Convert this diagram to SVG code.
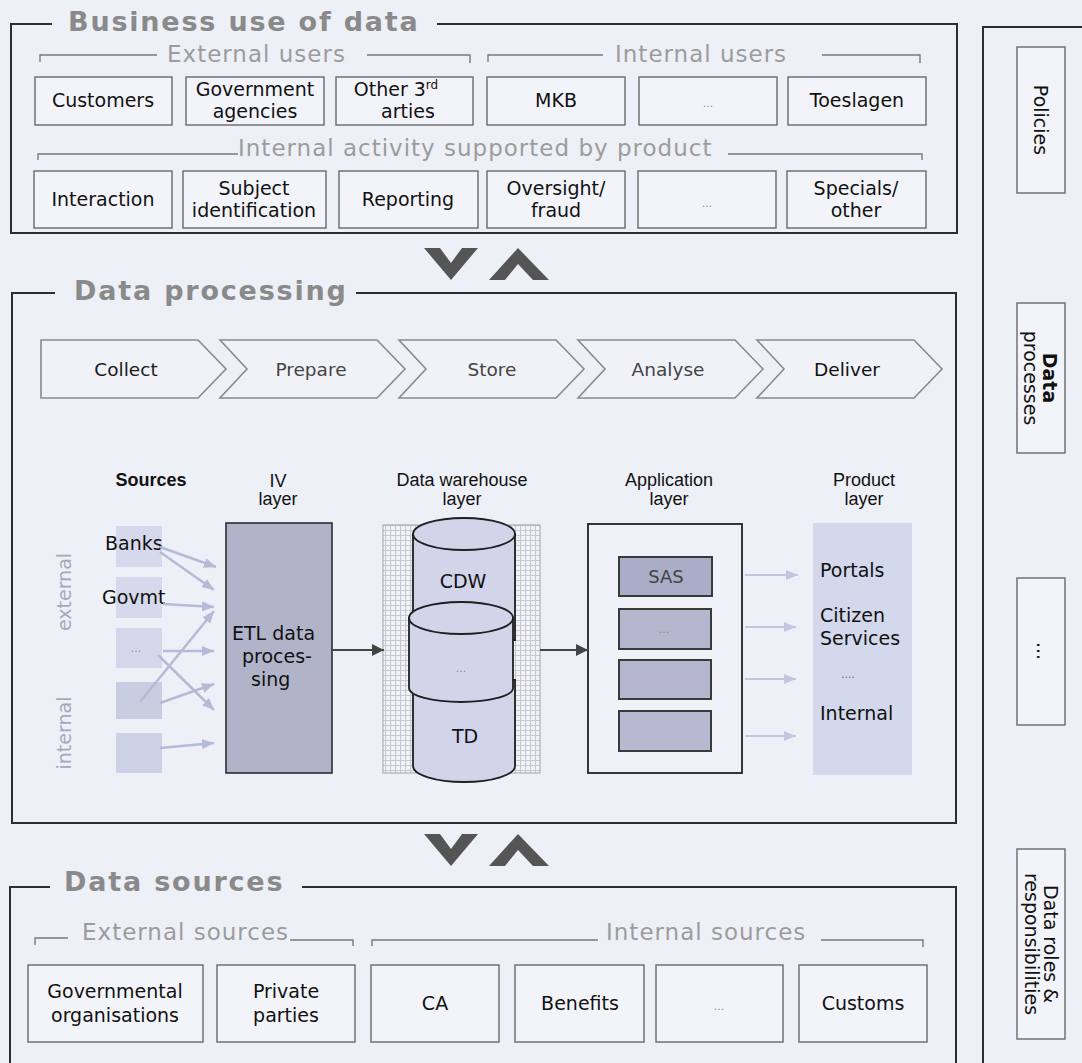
<svg xmlns="http://www.w3.org/2000/svg" width="1082" height="1063" viewBox="0 0 1082 1063">
<style>
.title{font-family:"DejaVu Sans",Verdana,sans-serif;font-weight:bold;font-size:27px;fill:#8a8a8a;letter-spacing:1.8px}
.sub{font-family:"DejaVu Sans",Verdana,sans-serif;font-size:23px;fill:#9c9c9c;letter-spacing:1px}
.panel{fill:none;stroke:#2e2e2e;stroke-width:2}
.brk{fill:none;stroke:#7a7a7a;stroke-width:1.4}
.box{fill:#f3f4fa;stroke:#727272;stroke-width:1.5}
.bt{font-family:"DejaVu Sans",Verdana,sans-serif;font-size:19px;fill:#111;text-anchor:middle}
.dots{font-family:"DejaVu Sans",sans-serif;font-size:11px;fill:#8a8a8a;text-anchor:middle}
.chev{fill:#f1f2f8;stroke:#8a8a8a;stroke-width:1.6}
.ct{font-family:"DejaVu Sans",Verdana,sans-serif;font-size:18.5px;text-anchor:middle}
.lab{font-family:"Liberation Sans",Arial,sans-serif;font-size:18px;fill:#111;text-anchor:middle}
.it{font-family:"DejaVu Sans",Verdana,sans-serif;font-size:19px;fill:#111}
.vert{font-family:"DejaVu Sans",Verdana,sans-serif;font-size:19px;fill:#a6a9bc;text-anchor:middle}
.side{font-family:"DejaVu Sans",Verdana,sans-serif;font-size:19px;fill:#111;text-anchor:middle}
.cyl{fill:#d2d5ea;stroke:#1f1f1f;stroke-width:1.8}
.appb{stroke:#3a3a3a;stroke-width:2}
.vv{fill:#555}
.la{stroke:#b5bad6;stroke-width:2.5;fill:none}
.pa{stroke:#c2c6de;stroke-width:2;fill:none}
.da{stroke:#444;stroke-width:2;fill:none}
</style>
<defs>
<marker id="al" viewBox="0 0 12 10" refX="12" refY="5" markerWidth="12" markerHeight="10" markerUnits="userSpaceOnUse" orient="auto"><path d="M0,0 L12,5 L0,10 z" fill="#b5bad6"/></marker>
<marker id="ap" viewBox="0 0 12 10" refX="12" refY="5" markerWidth="12" markerHeight="10" markerUnits="userSpaceOnUse" orient="auto"><path d="M0,0 L12,5 L0,10 z" fill="#c2c6de"/></marker>
<marker id="ad" viewBox="0 0 12 12" refX="12" refY="6" markerWidth="12" markerHeight="12" markerUnits="userSpaceOnUse" orient="auto"><path d="M0,0 L12,6 L0,12 z" fill="#444"/></marker>
<pattern id="grid" width="5" height="5" patternUnits="userSpaceOnUse"><rect width="5" height="5" fill="#f4f4f8"/><path d="M0,0.5 H5 M0.5,0 V5" stroke="#c6c8d3" stroke-width="1.2"/></pattern>
</defs>
<rect width="1082" height="1063" fill="#eef0f7"/>

<!-- Panel 1 -->
<g id="panel-business">
<path class="panel" d="M52,24 H11 V233 H957 V24 H437"/>
<text class="title" x="68" y="31">Business use of data</text>
<path class="brk" d="M40,62 V55 H157 M367,55 H470 V63"/>
<text class="sub" x="167" y="62">External users</text>
<path class="brk" d="M488,62 V55 H603 M822,55 H920 V63"/>
<text class="sub" x="615" y="62">Internal users</text>
<path class="brk" d="M38,160 V154 H238 M728,154 H922 V160"/>
<text class="sub" x="238" y="156">Internal activity supported by product</text>
</g>
<g id="n-customers"><rect class="box" x="35" y="77" width="137" height="48"/><text class="bt" x="103" y="107">Customers</text></g>
<g id="n-government"><rect class="box" x="186" y="77" width="138" height="48"/><text class="bt" x="255" y="96">Government</text><text class="bt" x="255" y="118">agencies</text></g>
<g id="n-other"><rect class="box" x="336" y="77" width="137" height="48"/><text class="bt" x="396" y="96">Other 3<tspan font-size="12" dy="-7">rd</tspan></text><text class="bt" x="408" y="118">arties</text></g>
<g id="n-mkb"><rect class="box" x="487" y="77" width="138" height="48"/><text class="bt" x="556" y="107">MKB</text></g>
<g id="n-users-more"><rect class="box" x="639" y="77" width="138" height="48"/><text class="dots" x="708" y="107">...</text></g>
<g id="n-toeslagen"><rect class="box" x="788" y="77" width="138" height="48"/><text class="bt" x="857" y="107">Toeslagen</text></g>
<g id="n-interaction"><rect class="box" x="34" y="171" width="138" height="57"/><text class="bt" x="103" y="206">Interaction</text></g>
<g id="n-subject"><rect class="box" x="183" y="171" width="143" height="57"/><text class="bt" x="254" y="195">Subject</text><text class="bt" x="254" y="217">identification</text></g>
<g id="n-reporting"><rect class="box" x="339" y="171" width="139" height="57"/><text class="bt" x="408" y="206">Reporting</text></g>
<g id="n-oversight"><rect class="box" x="487" y="171" width="138" height="57"/><text class="bt" x="556" y="195">Oversight/</text><text class="bt" x="556" y="217">fraud</text></g>
<g id="n-activity-more"><rect class="box" x="638" y="171" width="138" height="57"/><text class="dots" x="707" y="207">...</text></g>
<g id="n-specials"><rect class="box" x="787" y="171" width="139" height="57"/><text class="bt" x="856" y="195">Specials/</text><text class="bt" x="856" y="217">other</text></g>

<!-- flow chevrons between panels -->
<g id="flow-top">
<polygon class="vv" points="424,248 440,248 451,263 462,248 478,248 451,280"/>
<polygon class="vv" points="489,280 518,248 549,280 533,280 518,264 505,280"/>
</g>
<g id="flow-bottom">
<polygon class="vv" points="424,834 440,834 451,849 462,834 478,834 451,866"/>
<polygon class="vv" points="489,866 518,834 549,866 533,866 518,850 505,866"/>
</g>

<!-- Panel 2 -->
<g id="panel-processing">
<path class="panel" d="M55,293 H12 V823 H956 V293 H356"/>
<text class="title" x="74" y="300">Data processing</text>
</g>
<g id="n-collect"><polygon class="chev" points="41,340 198,340 226,369 198,398 41,398"/><text class="ct" x="126" y="376" style="fill:#1a1a1a">Collect</text></g>
<g id="n-prepare"><polygon class="chev" points="220,340 377,340 405,369 377,398 220,398 247,369"/><text class="ct" x="311" y="376" style="fill:#444">Prepare</text></g>
<g id="n-store"><polygon class="chev" points="399,340 556,340 584,369 556,398 399,398 426,369"/><text class="ct" x="492" y="376" style="fill:#444">Store</text></g>
<g id="n-analyse"><polygon class="chev" points="578,340 735,340 763,369 735,398 578,398 605,369"/><text class="ct" x="668" y="376" style="fill:#444">Analyse</text></g>
<g id="n-deliver"><polygon class="chev" points="757,340 914,340 942,369 914,398 757,398 784,369"/><text class="ct" x="847" y="376" style="fill:#111">Deliver</text></g>

<g id="layer-labels">
<text class="lab" x="151" y="486" style="font-weight:bold">Sources</text>
<text class="lab" x="278" y="487">IV</text><text class="lab" x="278" y="505">layer</text>
<text class="lab" x="462" y="486">Data warehouse</text><text class="lab" x="462" y="505">layer</text>
<text class="lab" x="669" y="486">Application</text><text class="lab" x="669" y="505">layer</text>
<text class="lab" x="864" y="486">Product</text><text class="lab" x="864" y="505">layer</text>
</g>

<g id="n-sources">
<rect x="116" y="526" width="46" height="41" fill="#d6d9eb"/>
<rect x="116" y="577" width="46" height="41" fill="#d6d9eb"/>
<rect x="116" y="628" width="46" height="40" fill="#d4d7ea"/>
<rect x="116" y="682" width="46" height="37" fill="#c9cde2"/>
<rect x="116" y="733" width="46" height="40" fill="#cdd1e5"/>
<text class="it" x="105" y="550">Banks</text>
<text class="it" x="102" y="604">Govmt</text>
<text class="dots" x="136" y="652">...</text>
<text class="vert" transform="translate(64,592) rotate(-90)" y="7">external</text>
<text class="vert" transform="translate(64,733) rotate(-90)" y="7">internal</text>
</g>

<g id="n-iv">
<rect x="226" y="523" width="106" height="250" fill="#b1b4c9" stroke="#2e2e2e" stroke-width="1.6"/>
<text class="it" x="232" y="640">ETL data</text>
<text class="it" x="242" y="663">proces-</text>
<text class="it" x="251" y="686">sing</text>
</g>

<g id="n-dw">
<rect x="383" y="525" width="157" height="248" fill="url(#grid)" stroke="#a0a2ae" stroke-width="1"/>
<path class="cyl" d="M413,680 V766 A51,16 0 0 0 515,766 V680 Z"/>
<path class="cyl" d="M413,534 V640 H515 V534 Z"/>
<ellipse class="cyl" cx="464" cy="534" rx="51" ry="16"/>
<path class="cyl" d="M409,618 V688 A52,14 0 0 0 513,688 V618 Z"/>
<ellipse class="cyl" cx="461" cy="618" rx="52" ry="16"/>
<text class="it" x="463" y="588" style="text-anchor:middle">CDW</text>
<text class="dots" x="461" y="672">...</text>
<text class="it" x="465" y="743" style="text-anchor:middle">TD</text>
</g>

<g id="n-app">
<rect x="588" y="524" width="154" height="249" fill="#f1f2f9" stroke="#222" stroke-width="1.8"/>
<rect class="appb" x="619" y="557" width="93" height="39" fill="#a9adc8"/>
<rect class="appb" x="619" y="609" width="92" height="40" fill="#b4b7cd"/>
<rect class="appb" x="619" y="660" width="92" height="39" fill="#b4b7cd"/>
<rect class="appb" x="619" y="711" width="92" height="40" fill="#b6b9cf"/>
<text class="it" x="666" y="583" style="text-anchor:middle;fill:#444;font-size:18px">SAS</text>
<text class="dots" x="664" y="633">...</text>
</g>

<g id="n-product">
<rect x="813" y="523" width="99" height="252" fill="#d3d8ec"/>
<text class="it" x="820" y="577">Portals</text>
<text class="it" x="820" y="622">Citizen</text>
<text class="it" x="820" y="645">Services</text>
<text class="dots" x="848" y="678" style="fill:#6a6a7a">....</text>
<text class="it" x="820" y="720">Internal</text>
</g>

<g id="connectors">
<line class="la" x1="160" y1="547" x2="216" y2="567" marker-end="url(#al)"/>
<line class="la" x1="160" y1="552" x2="214" y2="590" marker-end="url(#al)"/>
<line class="la" x1="163" y1="604" x2="214" y2="607" marker-end="url(#al)"/>
<line class="la" x1="140" y1="702" x2="214" y2="611" marker-end="url(#al)"/>
<line class="la" x1="163" y1="651" x2="214" y2="651" marker-end="url(#al)"/>
<line class="la" x1="158" y1="655" x2="214" y2="710" marker-end="url(#al)"/>
<line class="la" x1="160" y1="703" x2="214" y2="684" marker-end="url(#al)"/>
<line class="la" x1="160" y1="748" x2="214" y2="743" marker-end="url(#al)"/>
<line class="da" x1="332" y1="650" x2="384" y2="650" marker-end="url(#ad)"/>
<line class="da" x1="540" y1="650" x2="588" y2="650" marker-end="url(#ad)"/>
<line class="pa" x1="745" y1="575" x2="798" y2="575" marker-end="url(#ap)"/>
<line class="pa" x1="745" y1="627" x2="796" y2="627" marker-end="url(#ap)"/>
<line class="pa" x1="745" y1="679" x2="796" y2="679" marker-end="url(#ap)"/>
<line class="pa" x1="745" y1="736" x2="796" y2="736" marker-end="url(#ap)"/>
</g>

<!-- Panel 3 -->
<g id="panel-sources">
<path class="panel" d="M50,887 H10 V1063 M956,1063 V887 H302"/>
<text class="title" x="64" y="891">Data sources</text>
<path class="brk" d="M35,945 V938 H68 M290,940 H353 V946"/>
<text class="sub" x="82" y="940">External sources</text>
<path class="brk" d="M372,946 V940 H598 M821,940 H923 V947"/>
<text class="sub" x="606" y="940">Internal sources</text>
</g>
<g id="n-govorg"><rect class="box" x="28" y="965" width="175" height="77"/><text class="bt" x="115" y="998">Governmental</text><text class="bt" x="115" y="1022">organisations</text></g>
<g id="n-private"><rect class="box" x="217" y="965" width="138" height="77"/><text class="bt" x="286" y="998">Private</text><text class="bt" x="286" y="1022">parties</text></g>
<g id="n-ca"><rect class="box" x="371" y="965" width="128" height="77"/><text class="bt" x="435" y="1010">CA</text></g>
<g id="n-benefits"><rect class="box" x="515" y="965" width="129" height="77"/><text class="bt" x="580" y="1010">Benefits</text></g>
<g id="n-sources-more"><rect class="box" x="656" y="965" width="127" height="77"/><text class="dots" x="719" y="1010">...</text></g>
<g id="n-customs"><rect class="box" x="799" y="965" width="128" height="77"/><text class="bt" x="863" y="1010">Customs</text></g>

<!-- Right panel -->
<g id="panel-governance"><path class="panel" d="M983,1063 V27 H1082"/></g>
<g id="n-policies"><rect class="box" x="1017" y="47" width="48" height="146"/><text class="side" transform="translate(1041,120) rotate(90)" y="7">Policies</text></g>
<g id="n-dataproc"><rect class="box" x="1017" y="303" width="48" height="150"/><text class="side" transform="translate(1041,378) rotate(90)"><tspan x="0" y="-2" style="font-weight:bold">Data</tspan><tspan x="0" y="17">processes</tspan></text></g>
<g id="n-gov-more"><rect class="box" x="1017" y="578" width="48" height="147"/><text class="side" transform="translate(1041,651) rotate(90)" y="4">...</text></g>
<g id="n-roles"><rect class="box" x="1017" y="849" width="48" height="190"/><text class="side" transform="translate(1041,944) rotate(90)"><tspan x="0" y="-3">Data roles &amp;</tspan><tspan x="0" y="16">responsibilities</tspan></text></g>
</svg>
